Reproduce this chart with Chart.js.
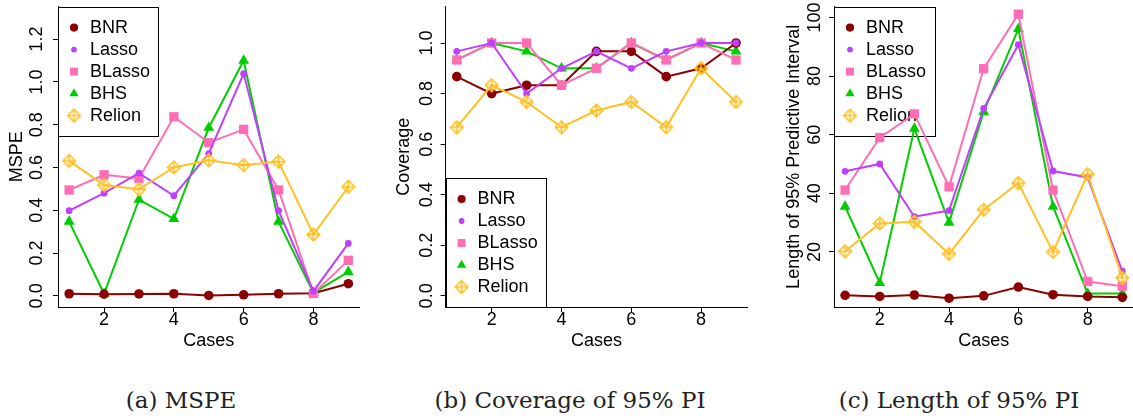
<!DOCTYPE html>
<html>
<head>
<meta charset="utf-8">
<script src="https://cdn.jsdelivr.net/npm/chart.js@4.4.1/dist/chart.umd.min.js"></script>
<style>
  body { margin: 0; background: #fff; }
  #wrap { position: relative; width: 1133px; height: 418px; overflow: hidden; }
  canvas { position: absolute; top: 0; }
  .cap { position: absolute; top: 387px; width: 380px; text-align: center; font-family: "DejaVu Serif", serif; font-size: 23px; line-height: 27px; color: #222; white-space: nowrap; }
</style>
</head>
<body>
<div id="wrap">
  <canvas id="mspeChart" width="380" height="360" style="left:0"></canvas>
  <canvas id="coverageChart" width="380" height="360" style="left:380px"></canvas>
  <canvas id="lengthChart" width="380" height="360" style="left:760px"></canvas>
  <div class="cap" style="left:-9px">(a) MSPE</div>
  <div class="cap" style="left:380px">(b) Coverage of 95% PI</div>
  <div class="cap" style="left:769px">(c) Length of 95% PI</div>
</div>
<script>
var cases = [1, 2, 3, 4, 5, 6, 7, 8, 9];
var methods = ['BNR', 'Lasso', 'BLasso', 'BHS', 'Relion'];
var xTicks = [2, 4, 6, 8];

// (a) MSPE
var mspeBNR    = [0.010, 0.008, 0.009, 0.010, 0.002, 0.005, 0.010, 0.012, 0.057];
var mspeLasso  = [0.398, 0.480, 0.574, 0.468, 0.665, 1.039, 0.398, 0.022, 0.245];
var mspeBLasso = [0.495, 0.566, 0.549, 0.837, 0.716, 0.778, 0.495, 0.011, 0.166];
var mspeBHS    = [0.347, 0.010, 0.450, 0.360, 0.786, 1.100, 0.347, 0.014, 0.112];
var mspeRelion = [0.631, 0.518, 0.498, 0.600, 0.634, 0.611, 0.628, 0.287, 0.510];
var mspeTicks  = [0, 0.2, 0.4, 0.6, 0.8, 1.0, 1.2];

// (b) coverage of 95% PI
var covBNR    = [0.867, 0.800, 0.833, 0.833, 0.967, 0.967, 0.867, 0.900, 1.000];
var covLasso  = [0.967, 1.000, 0.800, 0.900, 0.967, 0.900, 0.967, 1.000, 1.000];
var covBLasso = [0.933, 1.000, 1.000, 0.833, 0.900, 1.000, 0.933, 1.000, 0.933];
var covBHS    = [0.933, 1.000, 0.967, 0.900, 0.900, 1.000, 0.933, 1.000, 0.967];
var covRelion = [0.667, 0.833, 0.767, 0.667, 0.733, 0.767, 0.667, 0.900, 0.767];
var covTicks  = [0, 0.2, 0.4, 0.6, 0.8, 1.0];

// (c) length of 95% PI
var lenBNR    = [5.2, 4.8, 5.3, 4.2, 5.0, 8.0, 5.4, 4.8, 4.5];
var lenLasso  = [47.5, 50.0, 32.0, 34.1, 69.0, 90.7, 47.6, 45.4, 13.4];
var lenBLasso = [41.1, 59.0, 67.1, 42.2, 82.5, 101.1, 41.1, 9.9, 8.3];
var lenBHS    = [35.5, 9.4, 62.1, 30.0, 67.8, 96.1, 35.5, 5.8, 5.8];
var lenRelion = [20.2, 29.7, 30.3, 19.3, 34.4, 43.5, 20.0, 46.5, 11.2];
var lenTicks  = [20, 40, 60, 80, 100];

Chart.defaults.font.family = '"Liberation Sans", Arial, sans-serif';
Chart.defaults.font.size = 18;
Chart.defaults.color = '#000';

// diamond with a plus inside (R pch 9)
function diamondPlus(color, r) {
    var c = document.createElement('canvas');
    var s = Math.ceil(2 * r + 4);
    c.width = c.height = s;
    var g = c.getContext('2d');
    var m = s / 2;
    g.strokeStyle = color;
    g.lineWidth = 1.6;
    g.beginPath();
    g.moveTo(m, m - r); g.lineTo(m + r, m); g.lineTo(m, m + r); g.lineTo(m - r, m); g.closePath();
    g.moveTo(m - r, m); g.lineTo(m + r, m);
    g.moveTo(m, m - r); g.lineTo(m, m + r);
    g.stroke();
    return c;
}

var methodColors = ['#8B0000', '#BF3EFF', '#FF6EB4', '#00CD00', '#FFC125'];
var methodStyles = ['circle', 'circle', 'rect', 'triangle', diamondPlus('#FFC125', 6.3)];
var methodRadius = [4.8, 3.4, 6.6, 6.3, 6.3];
var drawOrder = [3, 1, 2, 4, 0];

// legend drawn inside the plot like R's legend()
var boxLegend = {
    id: 'boxLegend',
    beforeDatasetsDraw: function (chart, args, opts) {
        var a = chart.chartArea, ctx = chart.ctx;
        var x0 = a.left, y0 = opts.bottom ? a.bottom - opts.h : a.top;
        ctx.save();
        ctx.strokeStyle = '#000';
        ctx.lineWidth = 1;
        ctx.strokeRect(Math.round(x0) + 0.5, Math.round(y0) + 0.5, opts.w, opts.h);
        ctx.font = '18px "Liberation Sans", Arial, sans-serif';
        ctx.textBaseline = 'middle';
        chart.data.datasets.forEach(function (ds, i) {
            var y = y0 + 21 + i * 22;
            ctx.fillStyle = ds.pointBackgroundColor;
            ctx.strokeStyle = ds.pointBorderColor;
            Chart.helpers.drawPoint(ctx, {
                pointStyle: ds.pointStyle,
                radius: ds.pointRadius * 0.85,
                borderWidth: 0
            }, x0 + 16, y);
            ctx.fillStyle = '#000';
            ctx.fillText(ds.label, x0 + 32, y);
        });
        ctx.restore();
    }
};

function makeChart(id, series, yTitle, yMin, yMax, yTicks, fmt, box) {
    var cv = document.getElementById(id);
    var datasets = series.map(function (vals, i) {
        return {
            label: methods[i],
            data: cases.map(function (c, j) { return { x: c, y: vals[j] }; }),
            borderColor: methodColors[i],
            backgroundColor: methodColors[i],
            pointBackgroundColor: methodColors[i],
            pointBorderColor: methodColors[i],
            pointBorderWidth: 0,
            pointStyle: methodStyles[i],
            pointRadius: methodRadius[i],
            borderWidth: 2,
            tension: 0,
            order: drawOrder[i],
            clip: false
        };
    });
    return new Chart(cv, {
        type: 'line',
        data: { datasets: datasets },
        plugins: [boxLegend],
        options: {
            responsive: false,
            animation: false,
            events: [],
            layout: { padding: { left: 0, top: box.top, right: cv.width - box.right, bottom: 0 } },
            plugins: {
                legend: { display: false },
                tooltip: { enabled: false },
                boxLegend: box.legend
            },
            scales: {
                x: {
                    type: 'linear',
                    min: 0.68,
                    max: 9.32,
                    afterBuildTicks: function (s) { s.ticks = xTicks.map(function (v) { return { value: v }; }); },
                    afterFit: function (s) {
                        s.height = cv.height - box.bottom;
                        s.paddingLeft = 0; s.paddingRight = 0;
                    },
                    ticks: { padding: -1, maxRotation: 0, font: { lineHeight: 1 }, callback: function (v) { return String(v); } },
                    grid: { drawOnChartArea: false, tickLength: 5, color: '#000' },
                    border: { color: '#000' },
                    title: { display: true, text: 'Cases', padding: { bottom: 8.4 } }
                },
                y: {
                    type: 'linear',
                    min: yMin,
                    max: yMax,
                    afterBuildTicks: function (s) { s.ticks = yTicks.map(function (v) { return { value: v }; }); },
                    afterFit: function (s) {
                        s.width = box.left;
                        s.paddingTop = 0; s.paddingBottom = 0;
                    },
                    ticks: { padding: box.tickPad, minRotation: 90, maxRotation: 90, crossAlign: 'center', callback: fmt },
                    grid: { drawOnChartArea: false, tickLength: 5, color: '#000' },
                    border: { color: '#000' },
                    title: { display: true, text: yTitle, padding: { top: box.titlePad } }
                }
            }
        }
    });
}

var oneDec = function (v) { return v.toFixed(1); };

makeChart('mspeChart',
    [mspeBNR, mspeLasso, mspeBLasso, mspeBHS, mspeRelion],
    'MSPE', -0.052, 1.352, mspeTicks, oneDec,
    { left: 58, right: 359.5, top: 5, bottom: 307, tickPad: 3, titlePad: 6,
      legend: { w: 100, h: 129, bottom: false } });

makeChart('coverageChart',
    [covBNR, covLasso, covBLasso, covBHS, covRelion],
    'Coverage', -0.044, 1.144, covTicks, oneDec,
    { left: 65.6, right: 367.2, top: 5, bottom: 307, tickPad: 1.5, titlePad: 13.5,
      legend: { w: 100, h: 129, bottom: true } });

makeChart('lengthChart',
    [lenBNR, lenLasso, lenBLasso, lenBHS, lenRelion],
    'Length of 95% Predictive Interval', 1.2, 103.7, lenTicks, function (v) { return String(v); },
    { left: 74, right: 375.4, top: 5, bottom: 307, tickPad: -1, titlePad: 23,
      legend: { w: 101, h: 129, bottom: false } });
</script>
</body>
</html>
